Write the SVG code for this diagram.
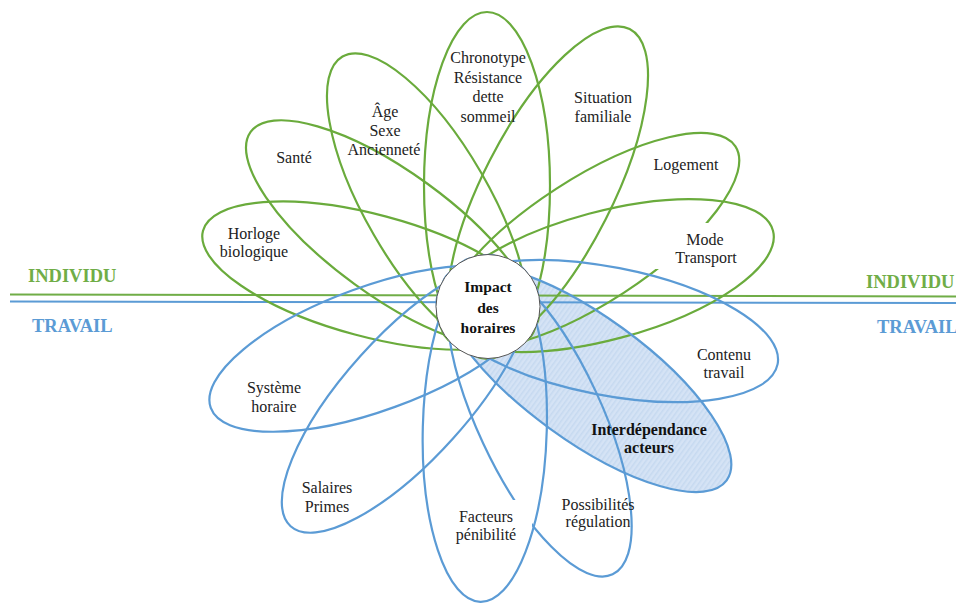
<svg xmlns="http://www.w3.org/2000/svg" width="956" height="603" viewBox="0 0 956 603">
<defs>
<pattern id="stripes" width="4" height="4" patternUnits="userSpaceOnUse">
<rect width="4" height="4" fill="#d5e3f5"/>
<rect width="1.5" height="4" fill="#c6d9f0"/>
</pattern>
<style>
.g{fill:none;stroke:#6aab3c;stroke-width:2.2}
.b{fill:none;stroke:#5b9bd5;stroke-width:2.2}
text{font-family:'Liberation Serif','DejaVu Serif',serif}
.t{font-size:16px;fill:#222;text-anchor:middle}
.tb{font-size:16px;font-weight:bold;fill:#111;text-anchor:middle}
.tc{font-size:15.5px;font-weight:bold;fill:#111;text-anchor:middle}
.side{font-size:18.5px;font-weight:bold}
</style>
</defs>
<rect width="956" height="603" fill="#fff"/>

<g id="interdependance-fill">
<ellipse cx="0" cy="0" rx="173.5" ry="62" fill="url(#stripes)" stroke="none" transform="translate(586.3,378.4) rotate(36)"/>
</g>

<g id="axis-lines">
<line x1="10" y1="294.5" x2="956" y2="296.5" stroke="#70ad47" stroke-width="2"/>
<line x1="10" y1="301.5" x2="956" y2="303" stroke="#5b9bd5" stroke-width="2"/>
<text class="side" x="28" y="282" fill="#70ad47">INDIVIDU</text>
<text class="side" x="32" y="332" fill="#5b9bd5">TRAVAIL</text>
<text class="side" x="866" y="288" fill="#70ad47">INDIVIDU</text>
<text class="side" x="877" y="333" fill="#5b9bd5">TRAVAIL</text>
</g>

<g id="connectors">
<g id="petal-horloge"><ellipse class="g" rx="173.5" ry="61" transform="translate(370.6,275.6) rotate(-165)"/></g>
<g id="petal-sante"><ellipse class="g" rx="173.5" ry="62" transform="translate(391,233.9) rotate(-144)"/></g>
<g id="petal-age"><ellipse class="g" rx="170" ry="62" transform="translate(427.5,203.8) rotate(-120)"/></g>
<g id="petal-chronotype"><ellipse class="g" rx="173.5" ry="63" transform="translate(487,185.5) rotate(-90)"/></g>
<g id="petal-situation"><ellipse class="g" rx="181" ry="65" transform="translate(547.5,190.3) rotate(-63)"/></g>
<g id="petal-logement"><ellipse class="g" rx="173.5" ry="62" transform="translate(589.9,240.8) rotate(-33)"/></g>
<rect x="650" y="223" width="98" height="46" fill="#fff"/>
<g id="petal-mode"><ellipse class="g" rx="173.5" ry="64" transform="translate(605.4,275.6) rotate(-15)"/></g>

<g id="petal-contenu"><ellipse class="b" rx="173.5" ry="64" transform="translate(607.3,331) rotate(11)"/></g>
<g id="petal-interdependance"><ellipse class="b" rx="173.5" ry="62" transform="translate(586.3,378.4) rotate(36)"/></g>
<g id="petal-possibilites"><ellipse class="b" rx="173.5" ry="62" transform="translate(539.3,417.1) rotate(65)"/></g>
<rect x="442" y="500" width="90" height="48" fill="#fff"/>
<g id="petal-facteurs"><ellipse class="b" rx="173.5" ry="62" transform="translate(484.8,428.4) rotate(91.5)"/></g>
<g id="petal-salaires"><ellipse class="b" rx="173.5" ry="62" transform="translate(406.7,397.3) rotate(132)"/></g>
<g id="petal-systeme"><ellipse class="b" rx="173.5" ry="62" transform="translate(373.8,348.6) rotate(160)"/></g>
</g>

<g id="center">
<circle cx="488" cy="306.5" r="52" fill="#fff" stroke="#555" stroke-width="1"/>
<text class="tc" x="488" y="292">Impact</text>
<text class="tc" x="488" y="313">des</text>
<text class="tc" x="488" y="333">horaires</text>
</g>

<g id="labels">
<g id="n-horloge"><text class="t" x="254" y="239">Horloge</text><text class="t" x="254" y="257">biologique</text></g>
<g id="n-sante"><text class="t" x="294" y="163">Santé</text></g>
<g id="n-age"><text class="t" x="385" y="117">Âge</text><text class="t" x="385" y="136">Sexe</text><text class="t" x="384" y="155">Ancienneté</text></g>
<g id="n-chronotype"><text class="t" x="488" y="63">Chronotype</text><text class="t" x="488" y="83">Résistance</text><text class="t" x="488" y="102">dette</text><text class="t" x="488" y="122">sommeil</text></g>
<g id="n-situation"><text class="t" x="603" y="103">Situation</text><text class="t" x="603" y="122">familiale</text></g>
<g id="n-logement"><text class="t" x="686" y="170">Logement</text></g>
<g id="n-mode"><text class="t" x="705" y="245">Mode</text><text class="t" x="706" y="263">Transport</text></g>
<g id="n-contenu"><text class="t" x="724" y="360">Contenu</text><text class="t" x="724" y="378">travail</text></g>
<g id="n-interdependance"><text class="tb" x="649" y="435">Interdépendance</text><text class="tb" x="649" y="453">acteurs</text></g>
<g id="n-possibilites"><text class="t" x="598" y="510">Possibilités</text><text class="t" x="598" y="527">régulation</text></g>
<g id="n-facteurs"><text class="t" x="486" y="522">Facteurs</text><text class="t" x="486" y="540">pénibilité</text></g>
<g id="n-salaires"><text class="t" x="327" y="493">Salaires</text><text class="t" x="327" y="512">Primes</text></g>
<g id="n-systeme"><text class="t" x="274" y="393">Système</text><text class="t" x="274" y="412">horaire</text></g>
</g>
</svg>
